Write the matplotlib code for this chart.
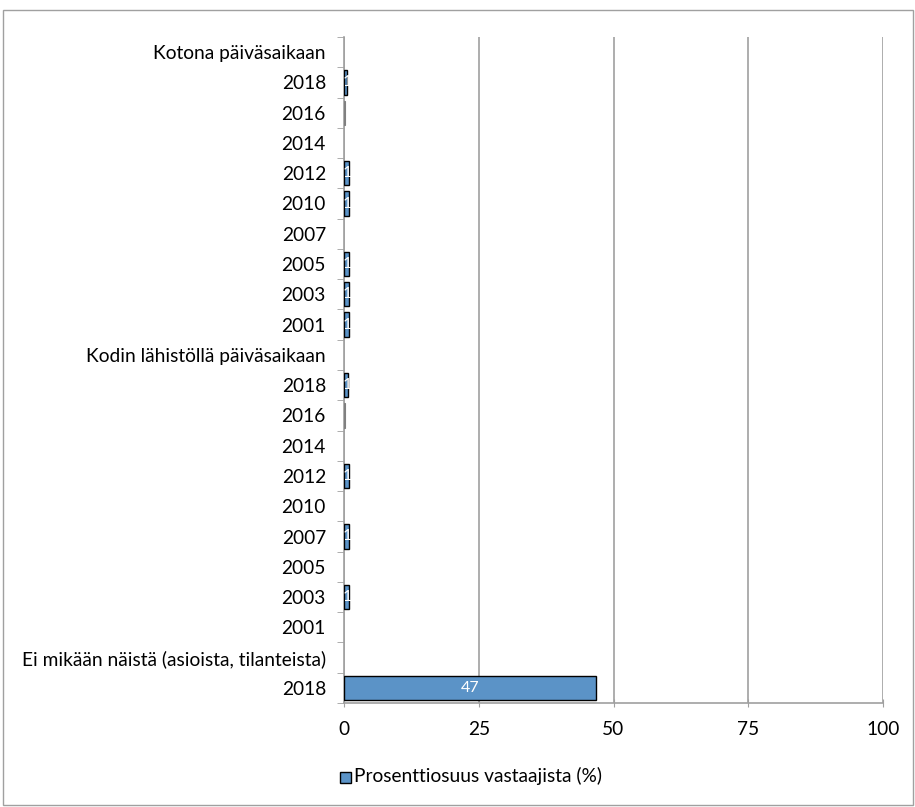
import numpy as np
import matplotlib
matplotlib.use("Agg")
import matplotlib.pyplot as plt
from matplotlib.patches import Rectangle

plt.rcParams['font.family'] = ['Lato', 'DejaVu Sans']

categories = [
    "Kotona päiväsaikaan", "2018", "2016", "2014", "2012", "2010", "2007", "2005", "2003", "2001",
    "Kodin lähistöllä päiväsaikaan", "2018", "2016", "2014", "2012", "2010", "2007", "2005", "2003", "2001",
    "Ei mikään näistä (asioista, tilanteista)", "2018",
]
values = [
    np.nan, 0.5, 0.15, np.nan, 1, 1, np.nan, 1, 1, 1,
    np.nan, 0.8, 0.15, np.nan, 1, np.nan, 1, np.nan, 1, np.nan,
    np.nan, 46.7,
]
series_name = "Prosenttiosuus vastaajista (%)"
xticks = [0, 25, 50, 75, 100]

fig = plt.figure(figsize=(9.15, 8.07), dpi=100)
ax = fig.add_axes([344/915, 1-703/807, (883-344)/915, (703-37)/807])

n = len(categories)
y = np.arange(n)
vals = np.array(values, dtype=float)
bars = ax.barh(y, np.nan_to_num(vals), height=0.8, color="#5b93c7",
               edgecolor="black", linewidth=1.0, zorder=3)
for b, v in zip(bars, vals):
    if np.isnan(v):
        b.set_visible(False)
    elif v < 0.3:
        b.set_edgecolor("#808080")
        b.set_facecolor("#808080")
        b.set_linewidth(0.8)

for yi, v in zip(y, vals):
    if not np.isnan(v) and v >= 0.5:
        lab = str(int(np.floor(v + 0.5)))
        ax.text(v / 2 if v > 5 else 0.6, yi, lab, color="white", ha="center",
                va="center", fontsize=11.5, zorder=4)

ax.set_ylim(n - 0.5, -0.5)
ax.set_xlim(0, 100)
ax.set_xticks(xticks)
ax.set_xticklabels([str(t) for t in xticks], fontsize=13.8)
ax.set_yticks(y)
ax.set_yticklabels(categories, fontsize=13.8)
ax.tick_params(axis='y', which='major', length=0, pad=13)
ax.set_yticks(np.arange(n + 1) - 0.5, minor=True)
ax.tick_params(axis='y', which='minor', length=5, color="#a0a0a0", direction='out')
ax.tick_params(axis='x', length=6, color="#a0a0a0", direction='inout', pad=10)

ax.grid(axis='x', color="#a0a0a0", linewidth=1.2, zorder=0)
for s in ["top", "right"]:
    ax.spines[s].set_visible(False)
for s in ["left", "bottom"]:
    ax.spines[s].set_color("#a0a0a0")
    ax.spines[s].set_linewidth(1.2)

# legend
fig.patches.append(Rectangle((340/915, 1-783/807), 11/915, 11/807, transform=fig.transFigure,
                             facecolor="#5b93c7", edgecolor="black", linewidth=1))
fig.text(354/915, 1-776/807, series_name, fontsize=13.8, va="center", ha="left")

# outer border
fig.patches.append(Rectangle((3/915, 2/807), 910/915, 795/807, transform=fig.transFigure,
                             fill=False, edgecolor="#a0a0a0", linewidth=1))

fig.savefig("out.png", dpi=100)
